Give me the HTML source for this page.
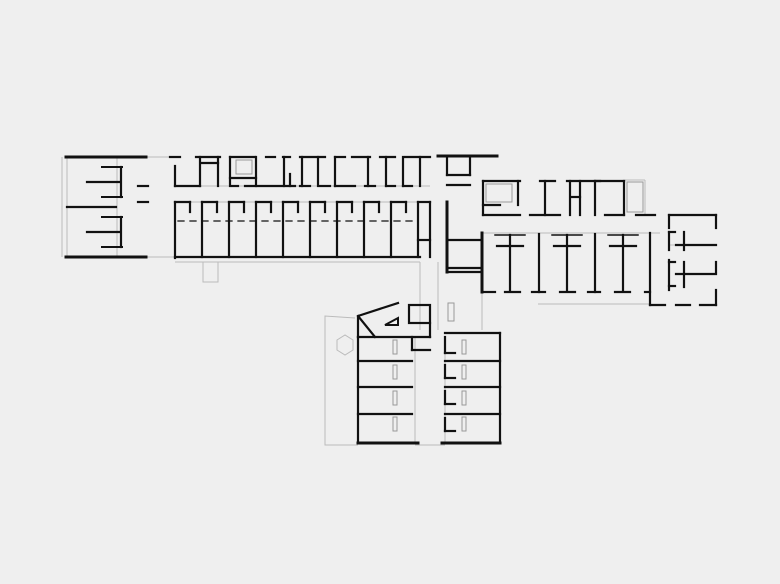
<!DOCTYPE html>
<html><head><style>
html,body{margin:0;padding:0;background:#efefef;}
svg{display:block;}
</style></head><body>
<svg width="780" height="584" viewBox="0 0 780 584" xmlns="http://www.w3.org/2000/svg">
<rect width="780" height="584" fill="#efefef"/>
<g stroke="#bbb" stroke-width="1" fill="none">
<line x1="62" y1="157" x2="62" y2="257"/>
<line x1="67" y1="157" x2="67" y2="257"/>
<line x1="117" y1="157" x2="117" y2="257"/>
<line x1="146" y1="157" x2="175" y2="157"/>
<line x1="146" y1="257" x2="175" y2="257"/>
<line x1="175" y1="262" x2="420" y2="262"/>
<rect x="203" y="262" width="15" height="20"/>
<line x1="175" y1="202" x2="430" y2="202"/>
<line x1="175" y1="186" x2="430" y2="186"/>
<line x1="420" y1="262" x2="420" y2="330"/>
<line x1="438" y1="262" x2="438" y2="330"/>
<line x1="482" y1="290" x2="482" y2="330"/>
<line x1="538" y1="304" x2="650" y2="304"/>
<line x1="625" y1="180" x2="645" y2="180"/>
<line x1="645" y1="180" x2="645" y2="215"/>
<line x1="483" y1="233" x2="660" y2="233"/>
<polyline points="355,318 325,316 325,445 358,445"/>
<polygon points="337,340 345,335 353,340 353,350 345,355 337,350"/>
<line x1="415" y1="337" x2="415" y2="443"/>
<line x1="445" y1="337" x2="445" y2="443"/>
<line x1="415" y1="445" x2="445" y2="445"/>
<line x1="669" y1="245" x2="716" y2="245"/>
</g>
<g stroke="#111" stroke-width="2.2" fill="none" stroke-linecap="square">
<line x1="66" y1="157" x2="146" y2="157" stroke-width="3"/>
<line x1="66" y1="257" x2="146" y2="257" stroke-width="3"/>
<line x1="67" y1="207" x2="116" y2="207"/>
<line x1="87" y1="182" x2="120" y2="182"/>
<line x1="87" y1="232" x2="120" y2="232"/>
<line x1="102" y1="167" x2="122" y2="167" stroke-width="2"/>
<line x1="102" y1="197" x2="122" y2="197" stroke-width="2"/>
<line x1="102" y1="217" x2="122" y2="217" stroke-width="2"/>
<line x1="102" y1="247" x2="122" y2="247" stroke-width="2"/>
<line x1="121" y1="167" x2="121" y2="197"/>
<line x1="121" y1="217" x2="121" y2="247"/>
<line x1="138" y1="186" x2="148" y2="186"/>
<line x1="138" y1="202" x2="148" y2="202"/>
<line x1="170" y1="157" x2="180" y2="157"/>
<line x1="196" y1="157" x2="220" y2="157"/>
<line x1="230" y1="157" x2="255" y2="157"/>
<line x1="266" y1="157" x2="275" y2="157"/>
<line x1="283" y1="157" x2="290" y2="157"/>
<line x1="300" y1="157" x2="325" y2="157"/>
<line x1="335" y1="157" x2="345" y2="157"/>
<line x1="352" y1="157" x2="370" y2="157"/>
<line x1="380" y1="157" x2="395" y2="157"/>
<line x1="405" y1="157" x2="430" y2="157"/>
<line x1="438" y1="156" x2="497" y2="156" stroke-width="3"/>
<line x1="175" y1="166" x2="175" y2="186"/>
<line x1="175" y1="186" x2="200" y2="186"/>
<line x1="200" y1="157" x2="200" y2="186"/>
<line x1="218" y1="157" x2="218" y2="186"/>
<line x1="202" y1="163" x2="218" y2="163"/>
<line x1="230" y1="157" x2="230" y2="186"/>
<line x1="230" y1="178" x2="256" y2="178"/>
<line x1="256" y1="157" x2="256" y2="186"/>
<line x1="232" y1="186" x2="238" y2="186"/>
<line x1="245" y1="186" x2="295" y2="186"/>
<line x1="284" y1="157" x2="284" y2="186"/>
<line x1="290" y1="174" x2="290" y2="186"/>
<line x1="302" y1="157" x2="302" y2="186"/>
<line x1="318" y1="157" x2="318" y2="186"/>
<line x1="300" y1="186" x2="310" y2="186"/>
<line x1="320" y1="186" x2="330" y2="186"/>
<line x1="335" y1="157" x2="335" y2="186"/>
<line x1="335" y1="186" x2="355" y2="186"/>
<line x1="368" y1="157" x2="368" y2="186"/>
<line x1="365" y1="186" x2="375" y2="186"/>
<line x1="386" y1="157" x2="386" y2="186"/>
<line x1="386" y1="186" x2="395" y2="186"/>
<line x1="403" y1="157" x2="403" y2="186"/>
<line x1="403" y1="186" x2="412" y2="186"/>
<line x1="420" y1="157" x2="420" y2="186"/>
<line x1="175" y1="202" x2="175" y2="258"/>
<line x1="175" y1="257" x2="420" y2="257"/>
<line x1="175" y1="202" x2="190" y2="202"/><line x1="190" y1="202" x2="190" y2="212"/>
<line x1="202" y1="202" x2="202" y2="257"/><line x1="202" y1="202" x2="217" y2="202"/><line x1="217" y1="202" x2="217" y2="212"/>
<line x1="229" y1="202" x2="229" y2="257"/><line x1="229" y1="202" x2="244" y2="202"/><line x1="244" y1="202" x2="244" y2="212"/>
<line x1="256" y1="202" x2="256" y2="257"/><line x1="256" y1="202" x2="271" y2="202"/><line x1="271" y1="202" x2="271" y2="212"/>
<line x1="283" y1="202" x2="283" y2="257"/><line x1="283" y1="202" x2="298" y2="202"/><line x1="298" y1="202" x2="298" y2="212"/>
<line x1="310" y1="202" x2="310" y2="257"/><line x1="310" y1="202" x2="325" y2="202"/><line x1="325" y1="202" x2="325" y2="212"/>
<line x1="337" y1="202" x2="337" y2="257"/><line x1="337" y1="202" x2="352" y2="202"/><line x1="352" y1="202" x2="352" y2="212"/>
<line x1="364" y1="202" x2="364" y2="257"/><line x1="364" y1="202" x2="379" y2="202"/><line x1="379" y1="202" x2="379" y2="212"/>
<line x1="391" y1="202" x2="391" y2="257"/><line x1="391" y1="202" x2="406" y2="202"/><line x1="406" y1="202" x2="406" y2="212"/>
<line x1="418" y1="202" x2="418" y2="257"/><line x1="418" y1="202" x2="430" y2="202"/><line x1="430" y1="202" x2="430" y2="257"/>
<line x1="418" y1="240" x2="430" y2="240"/>
<line x1="178" y1="221" x2="418" y2="221" stroke-width="1.3" stroke-dasharray="6,6"/>
<line x1="447" y1="158" x2="447" y2="175"/>
<line x1="470" y1="158" x2="470" y2="175"/>
<line x1="447" y1="175" x2="470" y2="175"/>
<line x1="447" y1="185" x2="470" y2="185"/>
<line x1="447" y1="202" x2="447" y2="272" stroke-width="3"/>
<line x1="447" y1="240" x2="482" y2="240"/>
<line x1="447" y1="268" x2="482" y2="268"/>
<line x1="447" y1="272" x2="482" y2="272"/>
<line x1="482" y1="233" x2="482" y2="292" stroke-width="3"/>
<line x1="483" y1="181" x2="520" y2="181"/>
<line x1="483" y1="181" x2="483" y2="215"/>
<line x1="518" y1="181" x2="518" y2="205"/>
<line x1="483" y1="205" x2="500" y2="205"/>
<line x1="483" y1="215" x2="520" y2="215"/>
<line x1="540" y1="181" x2="555" y2="181"/>
<line x1="567" y1="181" x2="600" y2="181"/>
<line x1="595" y1="181" x2="595" y2="215"/>
<line x1="570" y1="181" x2="570" y2="215"/>
<line x1="580" y1="181" x2="580" y2="215"/>
<line x1="545" y1="181" x2="545" y2="215"/>
<line x1="530" y1="215" x2="560" y2="215"/>
<line x1="572" y1="197" x2="580" y2="197"/>
<line x1="595" y1="181" x2="624" y2="181"/>
<line x1="624" y1="181" x2="624" y2="215"/>
<line x1="605" y1="215" x2="624" y2="215"/>
<line x1="636" y1="215" x2="655" y2="215"/>
<line x1="669" y1="215" x2="716" y2="215"/>
<line x1="716" y1="215" x2="716" y2="228"/>
<line x1="716" y1="262" x2="716" y2="272"/>
<line x1="716" y1="290" x2="716" y2="305"/>
<line x1="669" y1="215" x2="669" y2="228"/>
<line x1="669" y1="232" x2="669" y2="250"/>
<line x1="669" y1="260" x2="669" y2="290"/>
<line x1="669" y1="232" x2="675" y2="232"/>
<line x1="669" y1="262" x2="675" y2="262"/>
<line x1="669" y1="286" x2="675" y2="286"/>
<line x1="684" y1="232" x2="684" y2="250"/>
<line x1="684" y1="262" x2="684" y2="287"/>
<line x1="676" y1="245" x2="716" y2="245"/>
<line x1="676" y1="274" x2="716" y2="274"/>
<line x1="650" y1="305" x2="665" y2="305"/>
<line x1="676" y1="305" x2="690" y2="305"/>
<line x1="700" y1="305" x2="716" y2="305"/>
<line x1="650" y1="233" x2="650" y2="305"/>
<line x1="483" y1="292" x2="495" y2="292"/>
<line x1="505" y1="292" x2="520" y2="292"/>
<line x1="532" y1="292" x2="545" y2="292"/>
<line x1="560" y1="292" x2="575" y2="292"/>
<line x1="588" y1="292" x2="600" y2="292"/>
<line x1="615" y1="292" x2="630" y2="292"/>
<line x1="645" y1="292" x2="650" y2="292"/>
<line x1="539" y1="234" x2="539" y2="292"/>
<line x1="595" y1="234" x2="595" y2="292"/>
<line x1="510" y1="235" x2="510" y2="290"/>
<line x1="567" y1="235" x2="567" y2="290"/>
<line x1="623" y1="235" x2="623" y2="290"/>
<line x1="497" y1="246" x2="523" y2="246"/>
<line x1="554" y1="246" x2="580" y2="246"/>
<line x1="610" y1="246" x2="636" y2="246"/>
<line x1="495" y1="235" x2="525" y2="235" stroke-width="1.5"/>
<line x1="552" y1="235" x2="582" y2="235" stroke-width="1.5"/>
<line x1="608" y1="235" x2="638" y2="235" stroke-width="1.5"/>
<polyline points="358,337 358,316 398,303"/>
<line x1="358" y1="316" x2="375" y2="337"/>
<polygon points="385,325 398,318 398,325" stroke-width="2"/>
<rect x="409" y="305" width="21" height="18"/>
<line x1="430" y1="323" x2="430" y2="337"/>
<line x1="358" y1="337" x2="358" y2="443"/>
<line x1="358" y1="337" x2="430" y2="337"/>
<line x1="412" y1="350" x2="430" y2="350"/>
<line x1="358" y1="361" x2="412" y2="361"/>
<line x1="358" y1="387" x2="412" y2="387"/>
<line x1="358" y1="414" x2="412" y2="414"/>
<line x1="358" y1="443" x2="418" y2="443" stroke-width="3"/>
<line x1="412" y1="337" x2="412" y2="350"/>
<line x1="445" y1="333" x2="500" y2="333"/>
<line x1="445" y1="337" x2="445" y2="353"/>
<line x1="500" y1="333" x2="500" y2="443"/>
<line x1="445" y1="361" x2="500" y2="361"/>
<line x1="445" y1="387" x2="500" y2="387"/>
<line x1="445" y1="414" x2="500" y2="414"/>
<line x1="442" y1="443" x2="500" y2="443" stroke-width="3"/>
<line x1="445" y1="365" x2="445" y2="378"/>
<line x1="445" y1="391" x2="445" y2="404"/>
<line x1="445" y1="418" x2="445" y2="431"/>
<line x1="445" y1="353" x2="455" y2="353"/>
<line x1="445" y1="378" x2="455" y2="378"/>
<line x1="445" y1="404" x2="455" y2="404"/>
<line x1="445" y1="431" x2="455" y2="431"/>
</g>
<g stroke="#999" stroke-width="1" fill="none">
<rect x="448" y="303" width="6" height="18"/>
<rect x="393" y="340" width="4" height="14"/>
<rect x="393" y="365" width="4" height="14"/>
<rect x="393" y="391" width="4" height="14"/>
<rect x="393" y="417" width="4" height="14"/>
<rect x="462" y="340" width="4" height="14"/>
<rect x="462" y="365" width="4" height="14"/>
<rect x="462" y="391" width="4" height="14"/>
<rect x="462" y="417" width="4" height="14"/>
<rect x="236" y="160" width="16" height="14"/>
<rect x="627" y="182" width="16" height="30"/>
<rect x="486" y="184" width="26" height="18"/>
</g>
</svg>
</body></html>
